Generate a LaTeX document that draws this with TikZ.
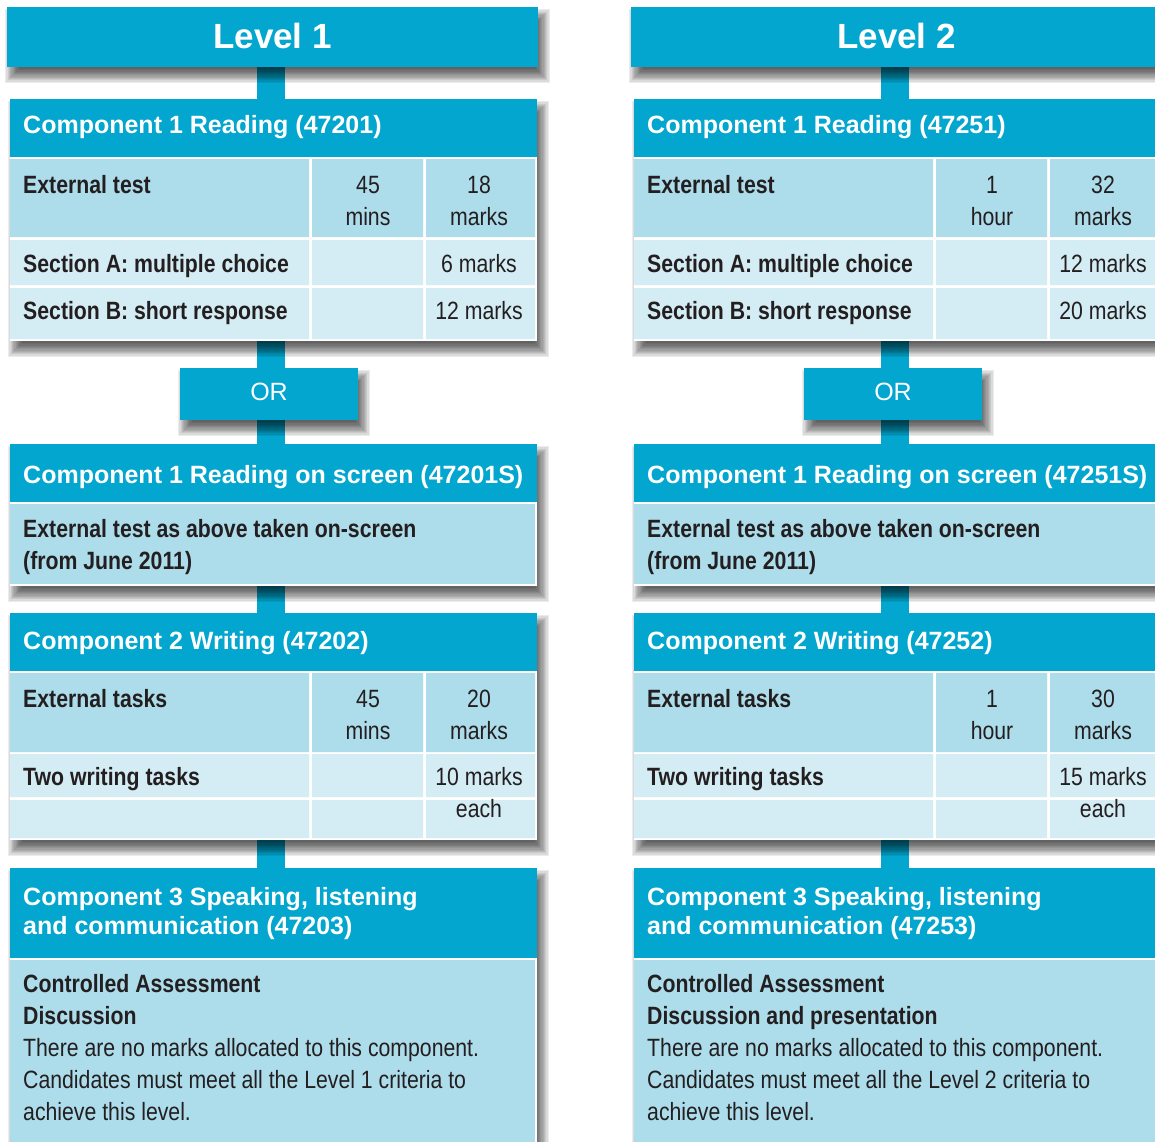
\documentclass[tikz,border=0pt]{standalone}
\usepackage{fontspec}
\setmainfont{Liberation Sans}
\newfontfamily\condfont[FakeStretch=0.85]{Liberation Sans}
\newfontfamily\condbold[FakeStretch=0.85]{Liberation Sans Bold}
\pgfdeclarelayer{bglayer}
\pgfdeclarelayer{shadowlayer}
\pgfsetlayers{bglayer,shadowlayer,main}
\definecolor{hdblue}{HTML}{02A6CE}
\definecolor{rowdark}{HTML}{ADDCEB}
\definecolor{rowlight}{HTML}{D4ECF4}
\definecolor{ink}{HTML}{231F20}
\tikzset{
  lvlbox/.style={fill=hdblue,anchor=north west,inner sep=0pt,outer sep=0pt},
  blockbox/.style={fill=white,anchor=north west,inner sep=0pt,outer sep=0pt},
  stemline/.style={draw=hdblue,line width=28pt},
  shadowlayerfill/.style={fill=black,opacity=0.075},
  lvltxt/.style={anchor=base,inner sep=0pt,text=white,font=\fontsize{35}{40}\selectfont\bfseries},
  hdtxt/.style={anchor=base west,inner sep=0pt,text=white,font=\fontsize{25}{29}\selectfont\bfseries},
  ortxt/.style={anchor=base,inner sep=0pt,text=white,font=\fontsize{25}{29}\selectfont},
  btxt/.style={anchor=base west,inner sep=0pt,text=ink,font=\condbold\fontsize{25}{32}\selectfont},
  rtxt/.style={anchor=base west,inner sep=0pt,text=ink,font=\condfont\fontsize{25}{32}\selectfont},
  ctxt/.style={anchor=base,inner sep=0pt,text=ink,font=\condfont\fontsize{25}{32}\selectfont},
}
% soft drop shadow behind a named node
\newcommand{\softshadow}[1]{%
  \begin{pgfonlayer}{shadowlayer}
    \foreach \k [evaluate=\k as \dd using 7-\k*14/11] in {0,...,11}{
      \fill[shadowlayerfill] ([shift={(5-\dd,-9-\dd)}]#1.south west) rectangle ([shift={(5+\dd,-9+\dd)}]#1.north east);
    }
  \end{pgfonlayer}}
\newcommand{\LevelColumn}[2]{%
\begin{scope}[xshift=#2]
  \coordinate (#1sx) at (271,0);
  % level header
  \node[lvlbox,minimum width=531pt,minimum height=60pt] (#1lvl) at (7,-7) {};
  \node[lvltxt] (#1lvlt) at (272.5,-48) {\Lname};
  % component 1
  \node[blockbox,minimum width=527pt,minimum height=242pt] (#1ca) at (10,-99) {};
  \fill[hdblue] (10,-99) rectangle (537,-157);
  \fill[rowdark] (10,-159) rectangle (309,-237) (312,-159) rectangle (423,-237) (426,-159) rectangle (535,-237);
  \fill[rowlight] (10,-240) rectangle (309,-285) (312,-240) rectangle (423,-285) (426,-240) rectangle (535,-285)
                  (10,-288) rectangle (309,-339) (312,-288) rectangle (423,-339) (426,-288) rectangle (535,-339);
  \node[hdtxt] (#1cah) at (23,-133) {Component 1 Reading (\CodeA)};
  \node[btxt] (#1ext) at (23,-193) {External test};
  \node[ctxt] (#1tA) at (368,-193) {\TimeA};
  \node[ctxt] (#1tAu) at (368,-225) {\TimeAu};
  \node[ctxt] (#1mA) at (479,-193) {\MarksA};
  \node[ctxt] (#1mAu) at (479,-225) {marks};
  \node[btxt] (#1sa) at (23,-272) {Section A: multiple choice};
  \node[ctxt] (#1sam) at (479,-272) {\SecA};
  \node[btxt] (#1sb) at (23,-319) {Section B: short response};
  \node[ctxt] (#1sbm) at (479,-319) {\SecB};
  % OR
  \node[lvlbox,minimum width=178pt,minimum height=52pt] (#1or) at (180,-368) {};
  \node[ortxt] (#1ort) at (269,-400) {OR};
  % component 1 on screen
  \node[blockbox,minimum width=527pt,minimum height=142pt] (#1cs) at (10,-444) {};
  \fill[hdblue] (10,-444) rectangle (537,-502);
  \fill[rowdark] (10,-504) rectangle (535,-584);
  \node[hdtxt] (#1csh) at (23,-483) {Component 1 Reading on screen (\CodeA S)};
  \node[btxt] (#1csa) at (23,-537) {External test as above taken on-screen};
  \node[btxt] (#1csb) at (23,-569) {(from June 2011)};
  % component 2
  \node[blockbox,minimum width=527pt,minimum height=227pt] (#1cb) at (10,-613) {};
  \fill[hdblue] (10,-613) rectangle (537,-671);
  \fill[rowdark] (10,-673) rectangle (309,-752) (312,-673) rectangle (423,-752) (426,-673) rectangle (535,-752);
  \fill[rowlight] (10,-754) rectangle (309,-797) (312,-754) rectangle (423,-797) (426,-754) rectangle (535,-797)
                  (10,-800) rectangle (309,-838) (312,-800) rectangle (423,-838) (426,-800) rectangle (535,-838);
  \node[hdtxt] (#1cbh) at (23,-649) {Component 2 Writing (\CodeB)};
  \node[btxt] (#1et) at (23,-707) {External tasks};
  \node[ctxt] (#1tB) at (368,-707) {\TimeA};
  \node[ctxt] (#1tBu) at (368,-739) {\TimeAu};
  \node[ctxt] (#1mB) at (479,-707) {\MarksB};
  \node[ctxt] (#1mBu) at (479,-739) {marks};
  \node[btxt] (#1tw) at (23,-785) {Two writing tasks};
  \node[ctxt] (#1twm) at (479,-785) {\Each};
  \node[ctxt] (#1twe) at (479,-817) {each};
  % component 3
  \node[blockbox,minimum width=527pt,minimum height=320pt] (#1cc) at (10,-868) {};
  \fill[hdblue] (10,-868) rectangle (537,-958);
  \fill[rowdark] (10,-960) rectangle (535,-1188);
  \node[hdtxt] (#1cch) at (23,-905) {Component 3 Speaking, listening};
  \node[hdtxt] (#1cch2) at (23,-934) {and communication (\CodeC)};
  \node[btxt] (#1ctl) at (23,-992) {Controlled Assessment};
  \node[btxt] (#1dis) at (23,-1024) {\Disc};
  \node[rtxt] (#1l1) at (23,-1056) {There are no marks allocated to this component.};
  \node[rtxt] (#1l2) at (23,-1088) {Candidates must meet all the Level \Lnum\ criteria to};
  \node[rtxt] (#1l3) at (23,-1120) {achieve this level.};
  % shadows
  \softshadow{#1lvl}\softshadow{#1ca}\softshadow{#1or}\softshadow{#1cs}\softshadow{#1cb}\softshadow{#1cc}
  % connectors
  \begin{pgfonlayer}{bglayer}
    \draw[stemline] (#1lvl.south -| #1sx) -- (#1ca.north -| #1sx);
    \draw[stemline] (#1ca.south -| #1sx) -- (#1or.north -| #1sx);
    \draw[stemline] (#1or.south -| #1sx) -- (#1cs.north -| #1sx);
    \draw[stemline] (#1cs.south -| #1sx) -- (#1cb.north -| #1sx);
    \draw[stemline] (#1cb.south -| #1sx) -- (#1cc.north -| #1sx);
  \end{pgfonlayer}
\end{scope}}
\begin{document}
\begin{tikzpicture}[x=1pt,y=1pt]
\useasboundingbox (0,0) rectangle (1155,-1141);
\begin{pgfonlayer}{bglayer}
  \fill[white] (0,0) rectangle (1155,-1141);
\end{pgfonlayer}
\def\Lname{Level 1}\def\Lnum{1}\def\CodeA{47201}\def\CodeB{47202}\def\CodeC{47203}
\def\TimeA{45}\def\TimeAu{mins}\def\MarksA{18}\def\SecA{6 marks}\def\SecB{12 marks}
\def\MarksB{20}\def\Each{10 marks}\def\Disc{Discussion}
\LevelColumn{a}{0pt}
\def\Lname{Level 2}\def\Lnum{2}\def\CodeA{47251}\def\CodeB{47252}\def\CodeC{47253}
\def\TimeA{1}\def\TimeAu{hour}\def\MarksA{32}\def\SecA{12 marks}\def\SecB{20 marks}
\def\MarksB{30}\def\Each{15 marks}\def\Disc{Discussion and presentation}
\LevelColumn{b}{624pt}
\end{tikzpicture}
\end{document}
